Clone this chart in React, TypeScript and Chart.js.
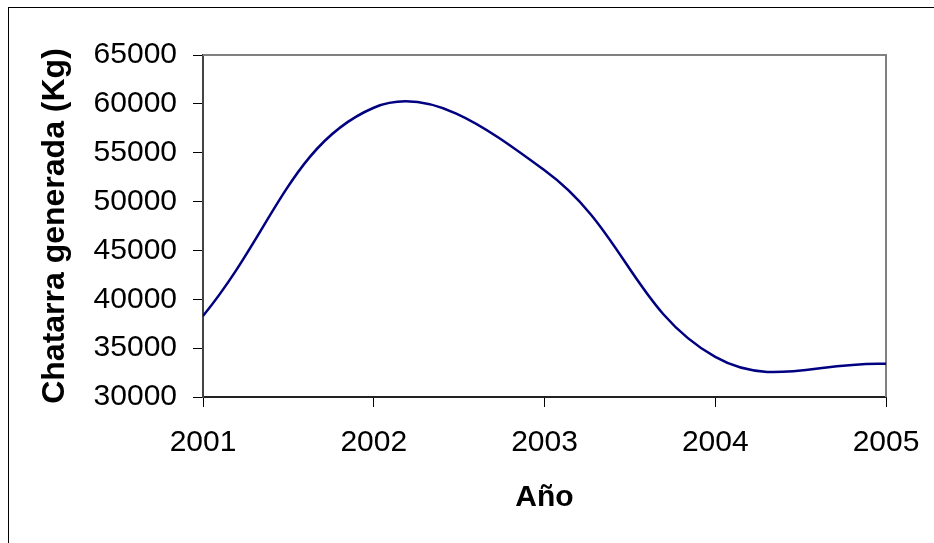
import React, { useEffect, useRef } from "react";
import { Chart, registerables } from "chart.js";

Chart.register(...registerables);

// Data
const years: number[] = [2001, 2002, 2003, 2004, 2005];
const scrapKg: number[] = [38300, 59600, 53200, 34100, 33400];
const yTickValues: number[] = [30000, 35000, 40000, 45000, 50000, 55000, 60000, 65000];
const xTitle = "Año";
const yTitle = "Chatarra generada (Kg)";

const FONT = "'Liberation Sans', Arial, Helvetica, sans-serif";

const plotFrame = {
  id: "plotFrame",
  beforeDatasetsDraw(chart: any) {
    const { ctx, chartArea } = chart;
    ctx.save();
    ctx.strokeStyle = "#808080";
    ctx.lineWidth = 2;
    ctx.beginPath();
    ctx.moveTo(chartArea.left, chartArea.top);
    ctx.lineTo(chartArea.right, chartArea.top);
    ctx.lineTo(chartArea.right, chartArea.bottom);
    ctx.stroke();
    ctx.restore();
  },
};

export default function App() {
  const ref = useRef<HTMLCanvasElement | null>(null);

  useEffect(() => {
    if (!ref.current) return;
    const chart = new Chart(ref.current, {
      type: "line",
      data: {
        datasets: [
          {
            data: years.map((y, i) => ({ x: y, y: scrapKg[i] })),
            borderColor: "#000080",
            borderWidth: 2.5,
            pointRadius: 0,
            pointHoverRadius: 0,
            tension: 0.4,
            fill: false,
          },
        ],
      },
      options: {
        animation: false,
        responsive: false,
        devicePixelRatio: 1,
        layout: { padding: { top: 55, right: 48, bottom: 0, left: 0 } },
        plugins: {
          legend: { display: false },
          tooltip: { enabled: false },
          title: { display: false },
        },
        scales: {
          x: {
            type: "linear",
            min: years[0],
            max: years[years.length - 1],
            afterFit(scale: any) {
              scale.height = 146;
              scale.paddingLeft = 0;
              scale.paddingRight = 0;
            },
            ticks: {
              stepSize: 1,
              color: "#000",
              padding: 18,
              font: { family: FONT, size: 30 },
              callback: (v: any) => String(v),
              maxRotation: 0,
            },
            grid: {
              drawOnChartArea: false,
              drawTicks: true,
              tickLength: 10,
              tickColor: "#000",
              lineWidth: 1,
            },
            border: { display: true, color: "#222", width: 2 },
            title: {
              display: true,
              text: xTitle,
              color: "#000",
              font: { family: FONT, size: 30, weight: "bold" },
              padding: { top: 0, bottom: 27 },
            },
          },
          y: {
            type: "linear",
            min: yTickValues[0],
            max: yTickValues[yTickValues.length - 1],
            afterFit(scale: any) {
              scale.width = 203;
              scale.paddingTop = 0;
              scale.paddingBottom = 0;
            },
            afterBuildTicks(scale: any) {
              scale.ticks = yTickValues.map((v) => ({ value: v }));
            },
            ticks: {
              color: "#000",
              padding: 16,
              font: { family: FONT, size: 30 },
              callback: (v: any) => String(v),
            },
            grid: {
              drawOnChartArea: false,
              drawTicks: true,
              tickLength: 10,
              tickColor: "#000",
              lineWidth: 1,
            },
            border: { display: true, color: "#444", width: 2 },
            title: {
              display: true,
              text: yTitle,
              color: "#000",
              font: { family: FONT, size: 32, weight: "bold" },
              padding: { top: 36, bottom: 0 },
            },
          },
        },
      },
      plugins: [plotFrame],
    });
    return () => chart.destroy();
  }, []);

  return (
    <div style={{ position: "fixed", left: 0, top: 0, width: 934, height: 543, background: "#fff", overflow: "hidden" }}>
      <div
        style={{
          position: "absolute",
          left: 8,
          top: 7,
          width: 2000,
          height: 2000,
          border: "1px solid #000",
        }}
      />
      <canvas
        ref={ref}
        width={934}
        height={543}
        style={{ position: "absolute", left: 0, top: 0, width: 934, height: 543, display: "block" }}
      />
    </div>
  );
}
